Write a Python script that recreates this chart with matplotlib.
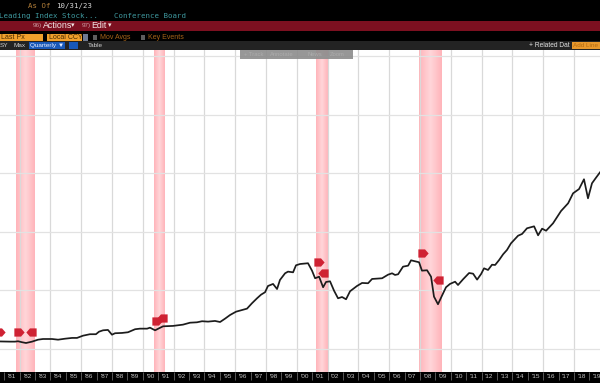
import numpy as np
import matplotlib
matplotlib.use("Agg")
import matplotlib.pyplot as plt
from matplotlib.colors import LinearSegmentedColormap
from matplotlib.patches import Rectangle

# --- data (y axis labels are hidden, so index units are arbitrary)
years = [1980.73,1981.38,1981.70,1981.90,1982.16,1982.42,1982.81,1983.20,1983.52,1984.11,1984.50,1984.95,
 1985.41,1985.73,1986.12,1986.57,1986.96,1987.16,1987.42,1987.74,1988.00,1988.20,1988.65,1989.04,1989.50,1989.82,
 1990.28,1990.47,1990.80,1991.06,1991.32,1991.96,1992.61,1993.07,1993.52,1993.85,1994.24,1994.69,1995.02,1995.34,
 1995.67,1996.06,1996.45,1996.77,1997.09,1997.42,1997.68,1997.94,1998.13,1998.46,1998.72,1998.91,1999.24,1999.43,
 1999.76,1999.95,2000.21,2000.73,2000.99,2001.19,2001.45,2001.71,2001.90,2002.16,2002.42,2002.68,2002.94,2003.20,
 2003.46,2003.91,2004.24,2004.63,2004.89,2005.54,2005.93,2006.19,2006.38,2006.58,2006.90,2007.23,2007.42,2007.94,
 2008.13,2008.46,2008.72,2008.91,2009.17,2009.43,2009.69,2009.95,2010.28,2010.47,2010.80,2011.19,2011.45,2011.71,
 2011.97,2012.16,2012.42,2012.68,2012.88,2013.14,2013.40,2013.65,2013.91,2014.37,2014.63,2014.95,2015.41,2015.67,
 2015.93,2016.19,2016.64,2017.16,2017.62,2017.94,2018.33,2018.65,2018.91,2019.17,2019.43,2019.69]
index_values = [7.7,7.5,7.5,7.9,6.9,6.1,7.5,9.5,10.2,10.2,9.5,10.5,
 11.3,11.3,13.6,15.1,15.1,17.7,19.1,19.5,14.6,16.1,16.4,17.1,20.2,20.8,
 20.8,21.8,19.1,21.2,23.2,23.6,24.9,26.9,27.3,28.4,28.0,28.7,27.6,31.0,
 34.8,38.2,39.9,41.3,46.8,51.9,55.6,58.1,64.5,66.6,61.4,70.7,77.5,79.2,
 78.5,85.7,87.0,87.8,80.2,72.4,74.0,63.2,68.6,69.3,59.7,51.9,53.2,50.9,
 59.1,64.5,67.6,67.3,71.7,72.4,76.1,77.5,75.8,76.5,84.3,85.3,90.8,88.8,
 80.2,80.6,74.0,53.6,45.8,54.6,63.2,66.6,68.9,65.5,71.4,77.8,77.1,71.0,
 76.8,82.6,80.9,86.3,86.0,91.1,97.0,101.4,108.2,116.0,117.8,123.6,125.6,116.4,
 123.2,121.1,128.7,141.3,149.2,159.4,163.8,173.8,154.3,169.7,175.4,180.9]

recessions = [(1981.77, 1983.0), (1990.73, 1991.44), (2001.22, 2001.98), (2007.94, 2009.4)]
event_right_years = [1980.73, 1981.98, 1990.93, 2001.45, 2008.20]
event_right_values = [17.4, 17.0, 28.7, 89.1, 98.3]
event_left_years = [1982.72, 1991.25, 2001.71, 2009.17]
event_left_values = [17.0, 32.1, 78.1, 70.7]
grid_years = list(range(1982, 2020, 2))
grid_levels = [0, 60, 120, 180, 240, 300]
label_years = list(range(1981, 2020))

W, H = 600, 383
fig = plt.figure(figsize=(W / 100, H / 100), dpi=100, facecolor="black")
px = lambda left, top, right, bottom: [left / W, 1 - bottom / H, (right - left) / W, (bottom - top) / H]

# --- main plot
ax = fig.add_axes(px(0, 50, 600, 372), facecolor="white")
xlim = (1980.73, 2019.69)
ylim = (-23.6, 306.2)

cmap = LinearSegmentedColormap.from_list("band", ["#ffb4ba", "#ffd6d9", "#ffb4ba"])
grad = np.linspace(0, 1, 64).reshape(1, -1)
for a, b in recessions:
    ax.imshow(grad, cmap=cmap, extent=(a, b, ylim[0], ylim[1]), aspect="auto", zorder=1)

for g in grid_years:
    ax.axvline(g, color="#d9d9d9", lw=0.9, zorder=2)
for g in grid_levels:
    ax.axhline(g, color="#e2e2e2", lw=0.9, zorder=2)

ax.plot(years, index_values, color="#1c1c1c", lw=1.25, zorder=3, solid_joinstyle="round")

right_m = [(-1, -0.8), (0.3, -0.8), (1, 0), (0.3, 0.8), (-1, 0.8), (-1, -0.8)]
left_m = [(-x, y) for x, y in right_m]
ax.plot(event_right_years, event_right_values, ls="none", marker=right_m, ms=7.4,
        mfc="#cf2233", mec="#cf2233", mew=0, zorder=4)
ax.plot(event_left_years, event_left_values, ls="none", marker=left_m, ms=7.4,
        mfc="#cf2233", mec="#cf2233", mew=0, zorder=4)

ax.set_yticks([])
ax.set_xticks(list(range(1981, 2020)))
ax.set_xticklabels([])
ax.tick_params(axis="x", which="major", length=6, width=0.6, color="#666666", direction="out", pad=0)
ax.set_xticks([y + 0.5 for y in label_years], minor=True)
ax.set_xticklabels(["'%02d" % (y % 100) for y in label_years], minor=True,
                   fontsize=4.6, color="#c4c4c4", family="Liberation Sans")
ax.tick_params(axis="x", which="minor", length=0, pad=1.2)
ax.set_xlim(*xlim)
ax.set_ylim(*ylim)
for s in ax.spines.values():
    s.set_visible(False)

# --- terminal chrome overlay, in pixels
ui = fig.add_axes([0, 0, 1, 1], facecolor="none", zorder=5)
ui.set_xlim(0, W)
ui.set_ylim(H, 0)
ui.axis("off")

def box(x0, y0, x1, y1, color, alpha=1.0):
    ui.add_patch(Rectangle((x0, y0), x1 - x0, y1 - y0, fc=color, ec="none", alpha=alpha))

def label(x, y, s, color, size=5.3, family="DejaVu Sans Mono", **kw):
    ui.text(x, y, s, color=color, fontsize=size, family=family, va="center", ha="left", **kw)

SANS = ["Liberation Sans", "DejaVu Sans"]
label(27.5, 6, "As Of", "#b5803a")
label(56, 6, "10/31/23", "#d8d8d8")
label(-1, 16, "Leading Index Stock...", "#3f9aa0")
label(114, 16, "Conference Board", "#3f9aa0")

box(0, 21, 600, 31, "#7c1020")
label(33, 26, "96)", "#c89aa0", size=4.6, family=SANS)
label(43, 26, "Actions", "#f2e6e6", size=6.4, family=SANS)
label(71, 26, "▾", "#f2e6e6", size=5, family=SANS)
label(82, 26, "97)", "#c89aa0", size=4.6, family=SANS)
label(91, 26, "Edit", "#f2e6e6", size=6.4, family=SANS)
label(108, 26, "▾", "#f2e6e6", size=5, family=SANS)

box(0, 34, 43, 41, "#f0a02c")
box(47, 34, 82, 41, "#f0a02c")
box(83, 34, 88, 41, "#6f7a92")
label(1, 37.5, "Last Px", "#4a2c00", size=5.0, family="Liberation Sans")
label(49, 37.5, "Local CCY", "#4a2c00", size=5.0, family="Liberation Sans")
box(93, 35, 97, 40, "#5e5e5e")
label(100, 37.5, "Mov Avgs", "#a56318", size=5.0, family="Liberation Sans")
box(141, 35, 145, 40, "#5e5e5e")
label(148, 37.5, "Key Events", "#a56318", size=5.0, family="Liberation Sans")

box(0, 41, 600, 50, "#232323")
label(0, 45.5, "SY", "#d0d0d0", size=4.6, family="Liberation Sans")
label(13, 45.5, "Max", "#d0d0d0", size=4.6, family="Liberation Sans")
box(29, 42, 65, 49, "#1858b8")
label(30, 45.5, "Quarterly ▼", "#e8eeff", size=4.6, family=SANS)
box(69, 42, 78, 49, "#1858b8")
label(88, 45.5, "Table", "#d0d0d0", size=4.6, family="Liberation Sans")
label(529, 45.5, "+ Related Dat", "#e0e0e0", size=4.8, family="Liberation Sans")
box(572, 42, 600, 49, "#e8982c")
label(573, 45.5, "Add Line", "#b36a10", size=4.6, family="Liberation Sans")

box(240, 50, 353, 59, "#8c8c8c", alpha=0.9)
for x, s in [(244, "+ Track"), (270, "Annotate"), (308, "News"), (330, "Zoom")]:
    label(x, 54.5, s, "#ababab", size=4.2, family="Liberation Sans")

fig.savefig("out.png", dpi=100, facecolor="black")
